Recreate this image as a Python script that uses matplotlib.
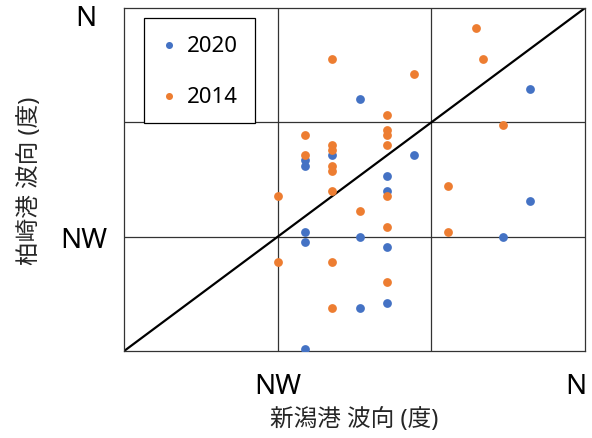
import matplotlib
matplotlib.use('Agg')
import matplotlib.pyplot as plt
from matplotlib.transforms import ScaledTranslation

plt.rcParams['font.family'] = ['Noto Sans', 'Noto Sans CJK JP', 'DejaVu Sans']

# wave direction (deg), Niigata (x) vs Kashiwazaki (y)
x_2020 = [352, 327, 323, 319, 319, 335, 331, 331, 352, 319, 319, 327, 331, 348, 327, 331, 319]
y_2020 = [344, 342, 331, 330, 329, 331, 327, 324, 322, 316, 314, 315, 313, 315, 301, 302, 293]

x_2014 = [344, 323, 345, 335, 331, 348, 319, 331, 331, 331, 323, 323, 319,
          323, 323, 340, 323, 331, 315, 327, 331, 340, 315, 323, 331, 323]
y_2014 = [356, 350, 350, 347, 339, 337, 335, 336, 335, 333, 333, 332, 331,
          329, 328, 325, 324, 323, 323, 320, 317, 316, 310, 310, 306, 301]

lo, hi = 292.5, 360
tick_pos = [315, 360]
tick_lab = ['NW', 'N']
grid_pos = [315, 337.5]

fig = plt.figure(figsize=(5.92, 4.39), dpi=100)
ax = fig.add_axes([0.2095, 0.198, 0.7787, 0.7815])

ax.scatter(x_2020, y_2020, s=40, color='#4472C4', label='2020', zorder=3, linewidths=0)
ax.scatter(x_2014, y_2014, s=40, color='#ED7D31', label='2014', zorder=3, linewidths=0)
ax.plot([lo, hi], [lo, hi], color='black', lw=1.6, zorder=2)

ax.set_xlim(lo, hi)
ax.set_ylim(lo, hi)
ax.xaxis.remove_overlapping_locs = False
ax.yaxis.remove_overlapping_locs = False
ax.set_xticks(tick_pos)
ax.set_xticklabels(tick_lab)
ax.set_yticks(tick_pos)
ax.set_yticklabels(tick_lab)
ax.set_xticks(grid_pos, minor=True)
ax.set_yticks(grid_pos, minor=True)
ax.grid(which='minor', color='#333333', lw=0.9)
ax.tick_params(which='both', length=0, labelsize=20, colors='black')
ax.tick_params(axis='x', pad=15)
ax.tick_params(axis='y', pad=12)
for s in ax.spines.values():
    s.set_color('#333333')
    s.set_linewidth(0.9)

# nudge the "N" labels like the original
xl = ax.get_xticklabels()[1]
xl.set_transform(xl.get_transform() + ScaledTranslation(-0.09, 0, fig.dpi_scale_trans))
yl = ax.get_yticklabels()[1]
yl.set_transform(yl.get_transform() + ScaledTranslation(-0.11, -0.07, fig.dpi_scale_trans))

ax.set_xlabel('新潟港 波向 (度)', fontsize=17, color='#262626')
ax.set_ylabel('柏崎港 波向 (度)', fontsize=17, color='#262626')
ax.xaxis.set_label_coords(0.5, -0.163)
ax.yaxis.set_label_coords(-0.178, 0.5)

leg = ax.legend(loc='upper left', bbox_to_anchor=(0.043, 0.971), borderaxespad=0,
                fontsize=16, frameon=True, fancybox=False, framealpha=1,
                edgecolor='black', handlelength=0.8, handletextpad=0.4,
                borderpad=0.75, labelspacing=1.35, markerscale=0.8)
leg.get_frame().set_linewidth(0.9)

fig.savefig('out.png', dpi=100)
